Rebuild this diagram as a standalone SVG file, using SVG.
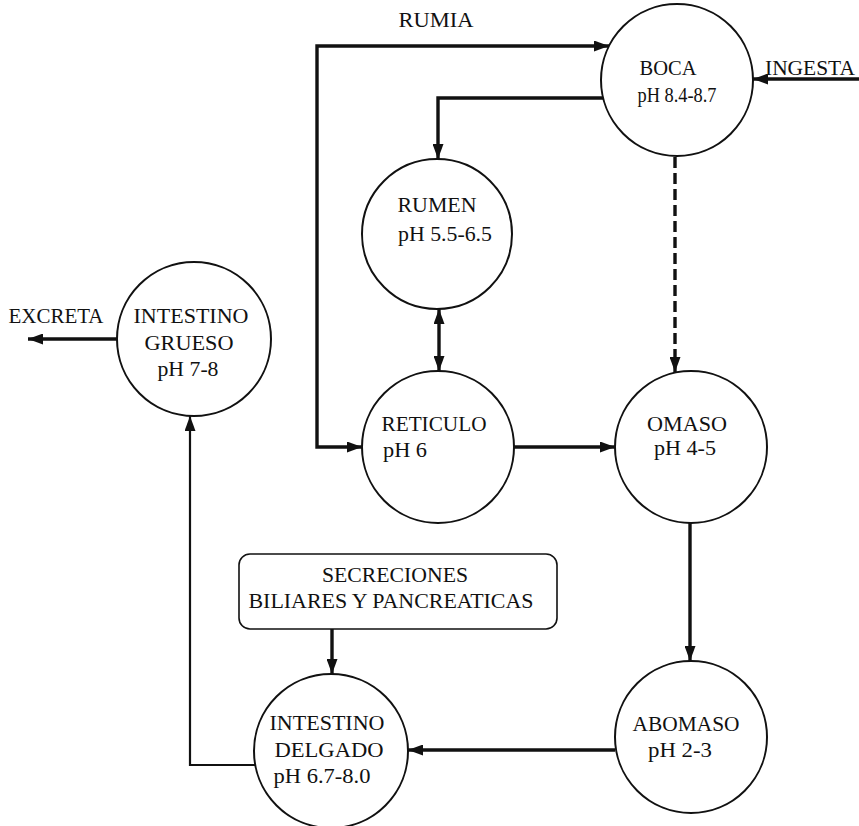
<svg xmlns="http://www.w3.org/2000/svg" width="859" height="826" viewBox="0 0 859 826">
<style>
.node circle{fill:#fff;stroke:#111;stroke-width:2}
.box{fill:#fff;stroke:#111;stroke-width:1.6}
text{font-family:"Liberation Serif","Times New Roman",serif;font-size:21px;fill:#111;text-anchor:middle}
.conn path{fill:none;stroke:#111;stroke-width:3.4}
.conn path.thin{stroke-width:2.2}
.conn path.dash{stroke-dasharray:11 5}
</style>
<defs>
<marker id="ah" viewBox="0 0 15 11" refX="15" refY="5.5" markerWidth="15" markerHeight="11" markerUnits="userSpaceOnUse" orient="auto-start-reverse">
<path d="M0,0 L15,5.5 L0,11 z" fill="#111"/>
</marker>
</defs>
<rect width="859" height="826" fill="#fff"/>

<g id="connectors" class="conn">
<path d="M362,447 H317 V46 H609" marker-start="url(#ah)" marker-end="url(#ah)"/>
<path d="M603,98 H438 V159" marker-end="url(#ah)"/>
<path d="M859,79 H753" marker-end="url(#ah)"/>
<path class="dash" d="M675,157 V372" marker-end="url(#ah)"/>
<path d="M439,309 V371" marker-start="url(#ah)" marker-end="url(#ah)"/>
<path d="M514,447 H615" marker-end="url(#ah)"/>
<path d="M690,523 V661" marker-end="url(#ah)"/>
<path d="M615,750 H408" marker-end="url(#ah)"/>
<path class="thin" d="M255,765 H190 V416" marker-end="url(#ah)"/>
<path d="M117,339 H28" marker-end="url(#ah)"/>
<path d="M332,629 V674" marker-end="url(#ah)"/>
</g>

<text x="436" y="27" textLength="75" lengthAdjust="spacingAndGlyphs">RUMIA</text>
<text x="810" y="75" textLength="90" lengthAdjust="spacingAndGlyphs">INGESTA</text>
<text x="56" y="323" textLength="95" lengthAdjust="spacingAndGlyphs">EXCRETA</text>

<g id="boca" class="node">
<circle cx="677" cy="80" r="76"/>
<text x="668" y="75" textLength="57" lengthAdjust="spacingAndGlyphs">BOCA</text>
<text x="677" y="102" textLength="79" lengthAdjust="spacingAndGlyphs">pH 8.4-8.7</text>
</g>

<g id="rumen" class="node">
<circle cx="437" cy="234" r="75"/>
<text x="437" y="212" textLength="79" lengthAdjust="spacingAndGlyphs">RUMEN</text>
<text x="445" y="241" textLength="94" lengthAdjust="spacingAndGlyphs">pH 5.5-6.5</text>
</g>

<g id="reticulo" class="node">
<circle cx="438" cy="447" r="76"/>
<text x="434" y="431" textLength="105" lengthAdjust="spacingAndGlyphs">RETICULO</text>
<text x="405" y="457" textLength="44" lengthAdjust="spacingAndGlyphs">pH 6</text>
</g>

<g id="omaso" class="node">
<circle cx="691" cy="447" r="76"/>
<text x="687" y="431" textLength="80" lengthAdjust="spacingAndGlyphs">OMASO</text>
<text x="685" y="455" textLength="62" lengthAdjust="spacingAndGlyphs">pH 4-5</text>
</g>

<g id="abomaso" class="node">
<circle cx="691" cy="737" r="76"/>
<text x="686" y="731" textLength="107" lengthAdjust="spacingAndGlyphs">ABOMASO</text>
<text x="680" y="757" textLength="64" lengthAdjust="spacingAndGlyphs">pH 2-3</text>
</g>

<g id="intestino-delgado" class="node">
<circle cx="331" cy="751" r="77"/>
<text x="327" y="730" textLength="115" lengthAdjust="spacingAndGlyphs">INTESTINO</text>
<text x="329" y="757" textLength="109" lengthAdjust="spacingAndGlyphs">DELGADO</text>
<text x="322" y="783" textLength="97" lengthAdjust="spacingAndGlyphs">pH 6.7-8.0</text>
</g>

<g id="intestino-grueso" class="node">
<circle cx="194" cy="339" r="77"/>
<text x="191" y="323" textLength="115" lengthAdjust="spacingAndGlyphs">INTESTINO</text>
<text x="189" y="350" textLength="89" lengthAdjust="spacingAndGlyphs">GRUESO</text>
<text x="188" y="376" textLength="61" lengthAdjust="spacingAndGlyphs">pH 7-8</text>
</g>

<g id="secreciones">
<rect class="box" x="239" y="554" width="318" height="75" rx="11" ry="11"/>
<text x="395" y="582" textLength="146" lengthAdjust="spacingAndGlyphs">SECRECIONES</text>
<text x="391" y="608" textLength="285" lengthAdjust="spacingAndGlyphs">BILIARES Y PANCREATICAS</text>
</g>
</svg>
